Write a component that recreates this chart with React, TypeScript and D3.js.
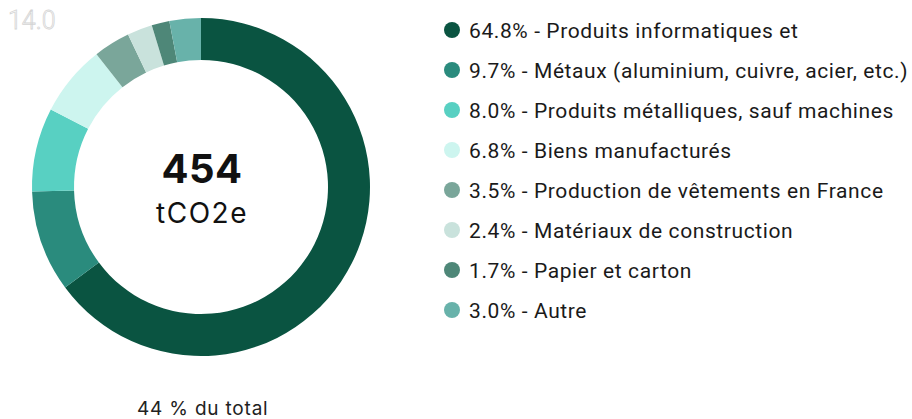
import React, { useRef, useEffect } from "react";
import * as d3 from "d3";

// chart data
const categories = [
  "Produits informatiques et",
  "Métaux (aluminium, cuivre, acier, etc.)",
  "Produits métalliques, sauf machines",
  "Biens manufacturés",
  "Production de vêtements en France",
  "Matériaux de construction",
  "Papier et carton",
  "Autre",
];
const shares = [64.8, 9.7, 8.0, 6.8, 3.5, 2.4, 1.7, 3.0];
const colors = [
  "#0a5441",
  "#2a8b7d",
  "#58d0c2",
  "#cdf5ef",
  "#7aa69a",
  "#c9e2dc",
  "#4e8778",
  "#68b2aa",
];
const totalValue = "454";
const unitLabel = "tCO2e";
const footLabel = "44 % du total";
const cornerLabel = "14.0";

const W = 912;
const H = 419;

const App = () => {
  const svgRef = useRef<SVGSVGElement>(null);

  useEffect(() => {
    const svg = d3.select(svgRef.current);
    svg.selectAll("*").remove();

    const cx = 201;
    const cy = 187;
    const outer = 169;
    const inner = 127;

    const pie = d3
      .pie<number>()
      .sort(null)
      .value((d) => d);
    const arc = d3.arc<d3.PieArcDatum<number>>().innerRadius(inner).outerRadius(outer);

    // donut
    svg
      .append("g")
      .attr("transform", `translate(${cx}, ${cy})`)
      .selectAll("path")
      .data(pie(shares))
      .enter()
      .append("path")
      .attr("d", arc)
      .style("fill", (d, i) => colors[i]);

    // centre text
    svg
      .append("text")
      .attr("x", cx + 1)
      .attr("y", 183)
      .attr("text-anchor", "middle")
      .style("font-family", "Inter, sans-serif")
      .style("font-weight", 700)
      .style("font-size", "40px")
      .style("letter-spacing", "0.5px")
      .style("fill", "#111")
      .text(totalValue);

    svg
      .append("text")
      .attr("x", cx + 1)
      .attr("y", 223)
      .attr("text-anchor", "middle")
      .style("font-family", "Inter, sans-serif")
      .style("font-size", "28px")
      .style("letter-spacing", "1.5px")
      .style("fill", "#111")
      .text(unitLabel);

    // legend
    const yScale = d3
      .scalePoint<number>()
      .domain(d3.range(categories.length))
      .range([30, 310]);

    const legend = svg
      .append("g")
      .selectAll("g")
      .data(categories)
      .enter()
      .append("g")
      .attr("transform", (d, i) => `translate(452, ${yScale(i)})`);

    legend
      .append("circle")
      .attr("r", 8)
      .style("fill", (d, i) => colors[i]);

    legend
      .append("text")
      .attr("x", 17)
      .attr("dy", "0.36em")
      .style("font-family", "Roboto, sans-serif")
      .style("font-size", "21px")
      .style("letter-spacing", "0.6px")
      .style("fill", "#1a1a1a")
      .text((d, i) => `${shares[i].toFixed(1)}% - ${d}`);

    // footer
    svg
      .append("text")
      .attr("x", 137)
      .attr("y", 415)
      .style("font-family", "Inter, sans-serif")
      .style("font-size", "19px")
      .style("letter-spacing", "0.8px")
      .style("fill", "#222")
      .text(footLabel);

    // faint corner label
    svg
      .append("text")
      .attr("x", 8)
      .attr("y", 29)
      .style("font-family", "Roboto, sans-serif")
      .style("font-weight", 300)
      .style("font-size", "25px")
      .style("fill", "#fff")
      .style("stroke", "#d4d4d4")
      .style("stroke-width", 0.8)
      .text(cornerLabel);
  }, []);

  return (
    <svg
      ref={svgRef}
      width={W}
      height={H}
      style={{ position: "absolute", left: 0, top: 0, background: "#fff" }}
    ></svg>
  );
};

export default App;
